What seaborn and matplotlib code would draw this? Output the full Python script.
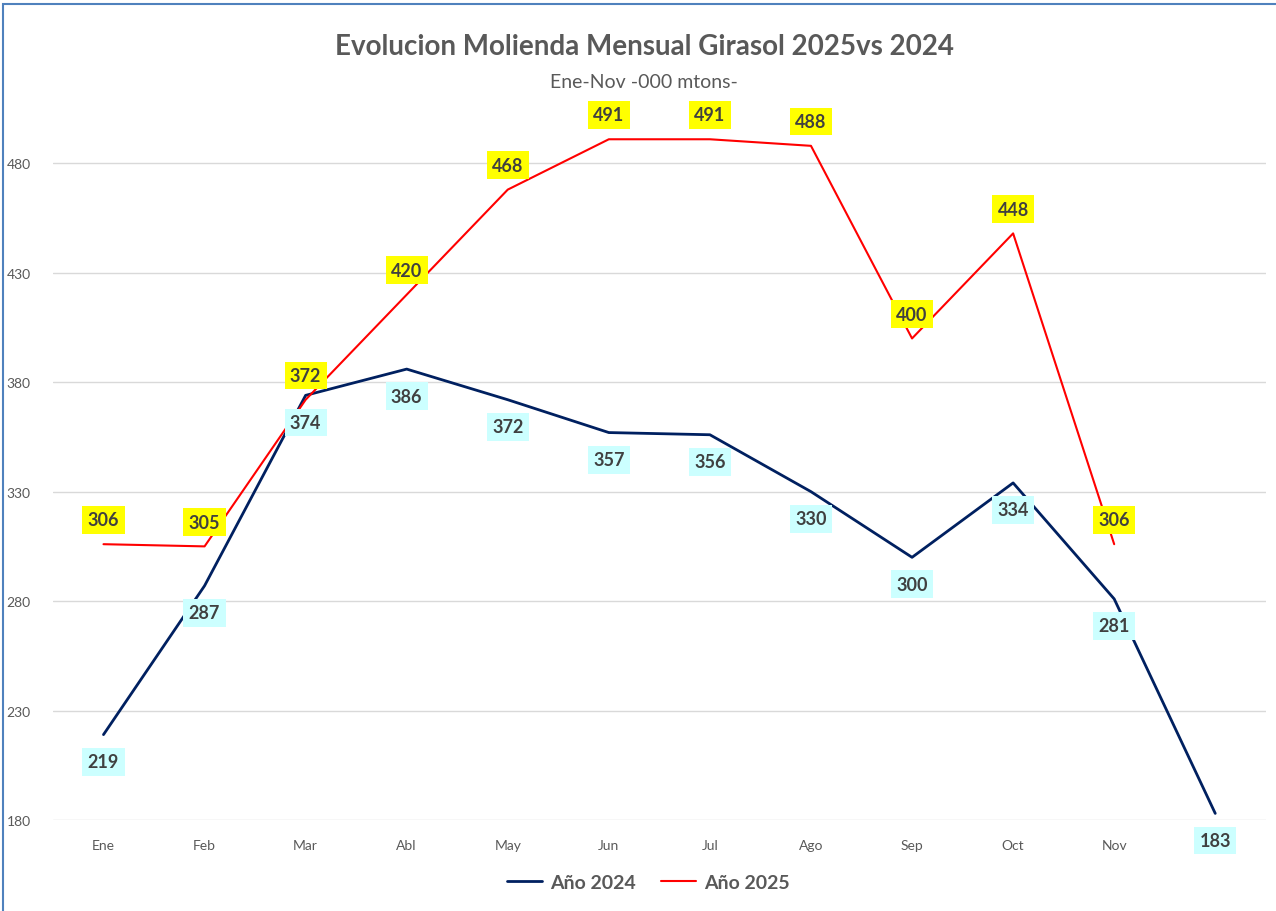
import pandas as pd
import seaborn as sns
import matplotlib.pyplot as plt
from matplotlib.patches import Rectangle

# monthly crushing, thousand tons
months = ['Ene', 'Feb', 'Mar', 'Abl', 'May', 'Jun', 'Jul', 'Ago', 'Sep', 'Oct', 'Nov', 'Dic']
ano_2024 = [219, 287, 374, 386, 372, 357, 356, 330, 300, 334, 281, 183]
ano_2025 = [306, 305, 372, 420, 468, 491, 491, 488, 400, 448, 306]
y_ticks = [180, 230, 280, 330, 380, 430, 480]

GREY = '#595959'
LABEL = '#404040'

sns.set_theme(style='white')
plt.rcParams['font.family'] = ['Lato', 'DejaVu Sans']

df24 = pd.DataFrame({'Mes': months, 'Valor': ano_2024})
df25 = pd.DataFrame({'Mes': months[:len(ano_2025)], 'Valor': ano_2025})

fig = plt.figure(figsize=(12.76, 9.12), dpi=100)
ax = fig.add_axes([0.0415, 0.0998, 0.9505, 0.840])

sns.lineplot(x='Mes', y='Valor', data=df24, ax=ax, color='#002060', lw=2, label='Año 2024', sort=False)
sns.lineplot(x='Mes', y='Valor', data=df25, ax=ax, color='#FF0000', lw=1.5, label='Año 2025', sort=False)

# data labels: 2024 below the line, 2025 above
for i, v in enumerate(ano_2024):
    ax.annotate(str(v), (i, v), xytext=(0, -19.5), textcoords='offset points',
                ha='center', va='center', fontsize=13, fontweight='bold', color=LABEL,
                bbox=dict(boxstyle='square,pad=0.3', fc='#CCFFFF', ec='none'), zorder=5)
for i, v in enumerate(ano_2025):
    ax.annotate(str(v), (i, v), xytext=(0, 17.5), textcoords='offset points',
                ha='center', va='center', fontsize=13, fontweight='bold', color=LABEL,
                bbox=dict(boxstyle='square,pad=0.3', fc='#FFFF00', ec='none'), zorder=6)

ax.set_xlim(-0.5, len(months) - 0.5)
ax.set_ylim(180, 530)
ax.set_yticks(y_ticks)
ax.yaxis.grid(True, color='#D9D9D9', lw=1)
ax.set_axisbelow(True)
for s in ax.spines.values():
    s.set_visible(False)
ax.tick_params(axis='x', length=0, pad=14, labelsize=10, labelcolor=GREY)
ax.tick_params(axis='y', length=0, pad=16, labelsize=10, labelcolor=GREY)
ax.set_xlabel('')
ax.set_ylabel('')

ax.legend(loc='center', bbox_to_anchor=(0.508, 0.031), bbox_transform=fig.transFigure,
          ncol=2, frameon=False, handlelength=1.8, handletextpad=0.4, columnspacing=1.3,
          prop={'weight': 'bold', 'size': 14})
for t in ax.get_legend().get_texts():
    t.set_color(GREY)

fig.text(0.505, 0.948, 'Evolucion Molienda Mensual Girasol 2025vs 2024', ha='center', va='center',
         fontsize=20, fontweight='bold', color=GREY)
fig.text(0.505, 0.909, 'Ene-Nov -000 mtons-', ha='center', va='center', fontsize=14, color=GREY)

# chart frame
fig.patches.append(Rectangle((3 / 1276, -0.1), 1.2, 1 - 5 / 912 + 0.1, transform=fig.transFigure,
                             fill=False, ec='#4F81BD', lw=1.5))

fig.savefig('out.png', dpi=100, facecolor='white')
